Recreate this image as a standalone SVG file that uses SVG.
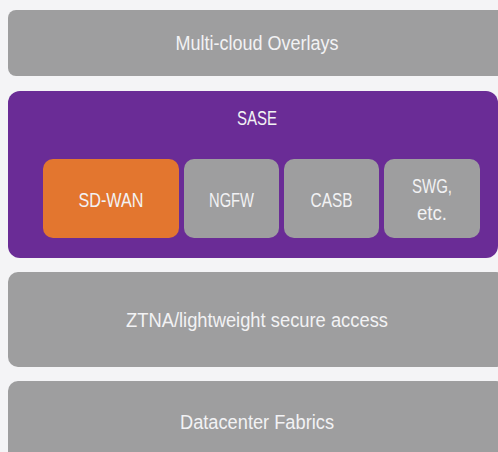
<svg xmlns="http://www.w3.org/2000/svg" width="498" height="452" viewBox="0 0 498 452">
<style>
.layer{fill:#9e9e9f}
.sase{fill:#6a2c96}
.item{fill:#9e9e9f}
.hl{fill:#e3762f}
text{font-family:"Liberation Sans",Arial,sans-serif;font-size:19.5px;fill:#f2f2f4;text-anchor:middle}
</style>
<rect width="498" height="452" fill="#f4f4f6"/>
<g id="multi-cloud">
<rect class="layer" x="8" y="10" width="498" height="66" rx="8"/>
<text x="257" y="50" textLength="163" lengthAdjust="spacingAndGlyphs">Multi-cloud Overlays</text>
</g>
<g id="sase">
<rect class="sase" x="8" y="91" width="490" height="167" rx="12"/>
<text x="257" y="125" textLength="40" lengthAdjust="spacingAndGlyphs">SASE</text>
</g>
<g id="sd-wan">
<rect class="hl" x="43" y="159" width="136" height="79" rx="10"/>
<text x="111" y="207" textLength="65" lengthAdjust="spacingAndGlyphs">SD-WAN</text>
</g>
<g id="ngfw">
<rect class="item" x="184" y="159" width="95" height="79" rx="10"/>
<text x="231.5" y="207" textLength="45" lengthAdjust="spacingAndGlyphs">NGFW</text>
</g>
<g id="casb">
<rect class="item" x="284" y="159" width="95" height="79" rx="10"/>
<text x="331.5" y="207" textLength="42" lengthAdjust="spacingAndGlyphs">CASB</text>
</g>
<g id="swg">
<rect class="item" x="384" y="159" width="96" height="79" rx="10"/>
<text x="432" y="193" textLength="40" lengthAdjust="spacingAndGlyphs">SWG,</text>
<text x="432" y="220" textLength="30" lengthAdjust="spacingAndGlyphs">etc.</text>
</g>
<g id="ztna">
<rect class="layer" x="8" y="272" width="498" height="95" rx="10"/>
<text x="257" y="327" textLength="262" lengthAdjust="spacingAndGlyphs">ZTNA/lightweight secure access</text>
</g>
<g id="datacenter">
<rect class="layer" x="8" y="381" width="498" height="90" rx="10"/>
<text x="257" y="429" textLength="154" lengthAdjust="spacingAndGlyphs">Datacenter Fabrics</text>
</g>
<g id="connectors"/>
</svg>
